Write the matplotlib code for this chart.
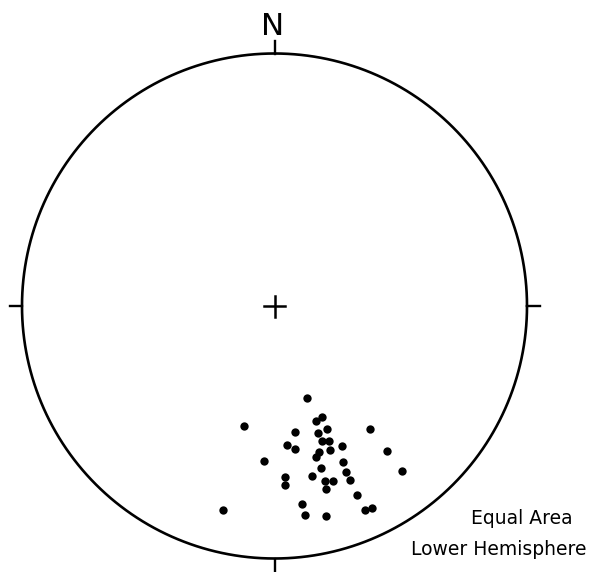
import numpy as np
import matplotlib
matplotlib.use("Agg")
import matplotlib.pyplot as plt

# Lineation data (trend, plunge in degrees), lower-hemisphere equal-area
trend = [160.4, 156.9, 160.1, 194.3, 170.8, 157.1, 161.0, 142.3, 174.7, 160.8,
         158.2, 154.2, 171.9, 158.8, 163.1, 142.2, 164.7, 184.0, 156.2, 164.1,
         142.3, 156.7, 176.4, 167.7, 176.6, 164.0, 161.5, 156.5, 164.4, 156.3,
         172.1, 194.2, 156.1, 154.2, 171.8, 166.2]
plunge = [58.2, 50.6, 50.1, 49.4, 48.0, 46.0, 45.9, 38.3, 44.0, 42.7,
          41.8, 38.3, 42.2, 38.8, 39.5, 28.0, 37.9, 38.3, 32.9, 33.7,
          18.6, 29.3, 32.7, 31.7, 29.6, 28.6, 27.8, 25.8, 25.7, 19.5,
          21.9, 17.8, 12.5, 12.3, 17.4, 15.3]
north_label = "N"
caption = ["Equal Area", "Lower Hemisphere"]

W, H, DPI = 594, 572, 100
CX, CY, R = 274.5, 306.0, 252.5  # pixel geometry of the net

fig = plt.figure(figsize=(W / DPI, H / DPI), dpi=DPI)
ax = fig.add_axes([0, 0, 1, 1])
ax.set_xlim(-CX / R, (W - CX) / R)
ax.set_ylim(-(H - CY) / R, CY / R)
ax.set_aspect("auto")
ax.axis("off")

# primitive circle
th = np.linspace(0, 2 * np.pi, 721)
ax.plot(np.cos(th), np.sin(th), color="black", lw=1.9, solid_capstyle="round")

# cardinal ticks
tl = 12.5 / R
for ang in [0, 90, 180, 270]:
    a = np.deg2rad(ang)
    sx, sy = np.sin(a), np.cos(a)
    ax.plot([sx, sx * (1 + tl)], [sy, sy * (1 + tl)], color="black", lw=1.7)

# center cross
cl = 10.5 / R
ax.plot([-cl, cl], [0, 0], color="black", lw=1.8)
ax.plot([0, 0], [-cl, cl], color="black", lw=1.8)

# equal-area projection of lineations
t = np.deg2rad(np.array(trend))
p = np.deg2rad(np.array(plunge))
r = np.sqrt(2) * np.sin((np.pi / 2 - p) / 2)
ax.plot(r * np.sin(t), r * np.cos(t), "o", color="black", ms=6.0, mew=0)

fig.text(273 / W, 1 - 35 / H, north_label, ha="center", va="baseline",
         fontsize=22.4, family="DejaVu Sans")
fig.text(521.4 / W, 1 - 524 / H, caption[0], ha="center", va="baseline",
         fontsize=13.5, family="DejaVu Sans")
fig.text(498.4 / W, 1 - 555 / H, caption[1], ha="center", va="baseline",
         fontsize=13.5, family="DejaVu Sans")

fig.savefig("out.png", dpi=DPI)
